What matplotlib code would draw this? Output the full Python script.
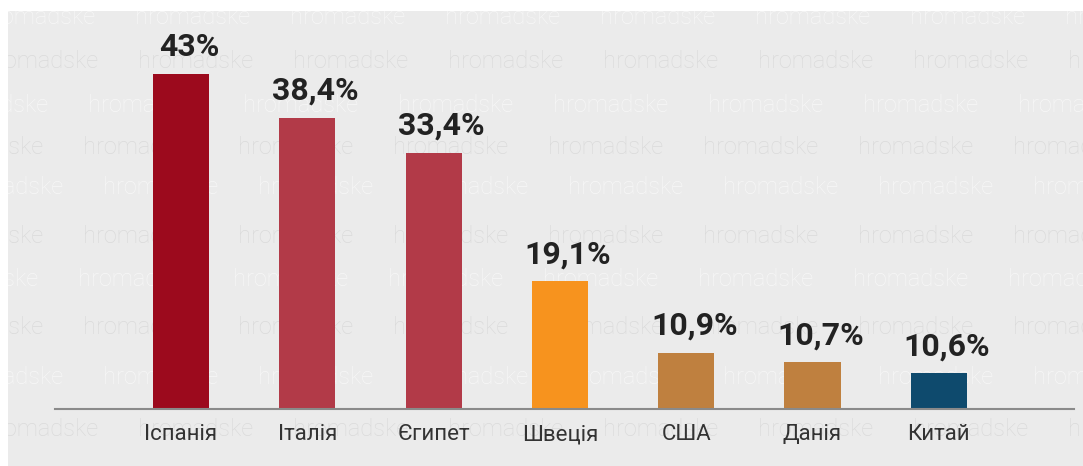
import matplotlib
matplotlib.use("Agg")
import matplotlib.pyplot as plt
from matplotlib.patches import Rectangle

# data
countries = ["Іспанія", "Італія", "Єгипет", "Швеція", "США", "Данія", "Китай"]
labels = ["43%", "38,4%", "33,4%", "19,1%", "10,9%", "10,7%", "10,6%"]
# bar heights as drawn in the original (not quite to scale with the labels)
bar_heights = [43.0, 37.4, 32.9, 16.4, 7.2, 6.0, 4.6]
colors = ["#9c0a1d", "#b23a48", "#b23a48", "#f7931e", "#bf803f", "#bf803f", "#0e4a6d"]

W, H = 1083, 466
plt.rcParams["font.family"] = ["Roboto", "DejaVu Sans"]

fig = plt.figure(figsize=(W / 100, H / 100), dpi=100)
fig.patch.set_facecolor("white")

# grey panel + watermark
fig.add_artist(Rectangle((8 / W, 0), 1 - 8 / W, (H - 11) / H, transform=fig.transFigure,
                         facecolor="#ebebeb", edgecolor="none", zorder=-3))
wm_rows = [17, 62, 105, 147, 188, 237, 280, 327, 378, 429]
wm_start = [-20, -17, -67, -72, -52, -72, -77, -72, -52, -17]
for k, (ry, rx) in enumerate(zip(wm_rows, wm_start)):
    col = "#f7f7f7" if k % 2 == 0 else "#dadada"
    x = rx
    while x < W:
        fig.text(x / W, 1 - ry / H, "hromadske", fontsize=17, fontweight="light",
                 color=col, ha="left", va="center", zorder=-2)
        x += 155
# white margins over watermark
fig.add_artist(Rectangle((0, (H - 11) / H), 1, 11 / H, transform=fig.transFigure,
                         facecolor="white", edgecolor="none", zorder=-1))
fig.add_artist(Rectangle((0, 0), 8 / W, 1, transform=fig.transFigure,
                         facecolor="white", edgecolor="none", zorder=-1))

ax = fig.add_axes([55 / W, 57 / H, 1019 / W, 398 / H])
ax.patch.set_alpha(0)
xs = list(range(len(countries)))
ax.bar(xs, bar_heights, width=0.445, color=colors, zorder=2)

for x, h, lab in zip(xs, bar_heights, labels):
    ax.annotate(lab, (x, h), xytext=(8, 18), textcoords="offset pixels",
                ha="center", va="baseline", fontsize=23, fontweight="bold",
                color="#222222")

ax.set_xlim(-0.998, 7.07)
ax.set_ylim(0, 51.1)
ax.set_xticks(xs)
ax.set_xticklabels(countries, fontsize=16, color="#333333")
ax.tick_params(axis="x", length=0, pad=11)
ax.set_yticks([])
for s in ["top", "left", "right"]:
    ax.spines[s].set_visible(False)
ax.spines["bottom"].set_color("#8a8a8a")
ax.spines["bottom"].set_linewidth(1.5)

plt.savefig("out.png", dpi=100)
